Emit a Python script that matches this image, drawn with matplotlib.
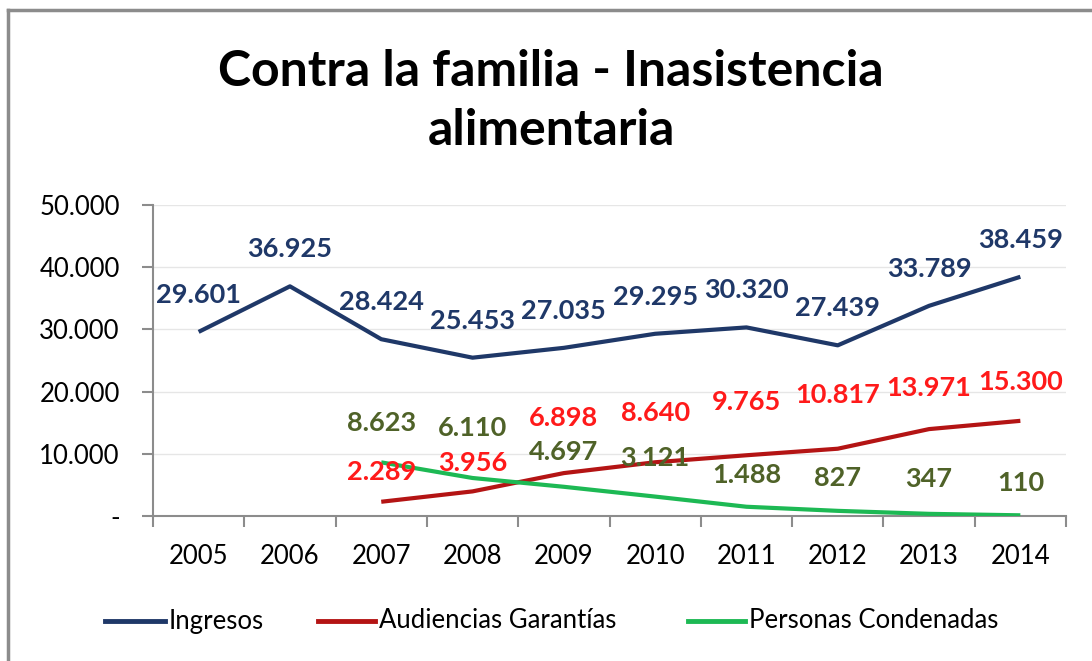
import matplotlib
matplotlib.use("Agg")
import matplotlib.pyplot as plt
from matplotlib.lines import Line2D
from matplotlib.ticker import FuncFormatter

years = ["2005", "2006", "2007", "2008", "2009", "2010", "2011", "2012", "2013", "2014"]
ingresos = [29601, 36925, 28424, 25453, 27035, 29295, 30320, 27439, 33789, 38459]
audiencias = [None, None, 2289, 3956, 6898, 8640, 9765, 10817, 13971, 15300]
condenadas = [None, None, 8623, 6110, 4697, 3121, 1488, 827, 347, 110]

title = "Contra la familia - Inasistencia\nalimentaria"
series_names = ["Ingresos", "Audiencias Garantías", "Personas Condenadas"]

line_colors = ["#1F3868", "#B41414", "#1DB954"]
label_colors = ["#1F3868", "#FF1A1A", "#4F6228"]

plt.rcParams['font.family'] = ['Lato', 'DejaVu Sans']

W, H = 1092, 661
fig = plt.figure(figsize=(W / 100, H / 100), dpi=100)
ax = fig.add_axes([153 / W, 1 - 516 / H, (1066 - 153) / W, (516 - 205) / H])

x = list(range(len(years)))

def fmt(v):
    return f"{v:,.0f}".replace(",", ".")

# per-point label lift in pixels (placement only)
red_lift = [0, 0, 30, 28, 55, 49, 53, 54, 41, 39]
green_lift = [0, 0, 39, 50, 35, 39, 32, 33, 35, 32]

all_series = [ingresos, audiencias, condenadas]
lifts = [[37] * 10, red_lift, green_lift]
for s, lc, tc, lift, name in zip(all_series, line_colors, label_colors, lifts, series_names):
    xs = [i for i, v in zip(x, s) if v is not None]
    ys = [v for v in s if v is not None]
    ax.plot(xs, ys, color=lc, lw=3, solid_capstyle='butt', label=name, zorder=3)
    for xi, yi in zip(xs, ys):
        ax.annotate(fmt(yi), (xi, yi), xytext=(0, lift[xi] * 0.72), textcoords='offset points',
                    ha='center', va='center', fontsize=19.5, fontweight='bold', color=tc, zorder=4)

ax.set_xlim(-0.5, len(years) - 0.5)
ax.set_ylim(0, 50000)
ax.set_yticks(range(0, 50001, 10000))
ax.yaxis.set_major_formatter(FuncFormatter(lambda v, p: "-" if v == 0 else fmt(v)))
ax.set_xticks(x)
ax.set_xticklabels(years)
ax.set_xticks([i - 0.5 for i in range(len(years) + 1)], minor=True)
ax.tick_params(axis='x', which='major', length=0, pad=20, labelsize=18.5, colors='#000000')
ax.tick_params(axis='x', which='minor', length=8, width=1.5, color='#8C8C8C')
ax.tick_params(axis='y', length=8, width=1.5, color='#8C8C8C', labelsize=18.5, pad=16)
for lab in ax.get_yticklabels() + ax.get_xticklabels():
    lab.set_color('#000000')

ax.grid(axis='y', color='#E6E6E6', lw=1)
ax.set_axisbelow(True)
for sp in ['top', 'right']:
    ax.spines[sp].set_visible(False)
for sp in ['left', 'bottom']:
    ax.spines[sp].set_color('#8C8C8C')
    ax.spines[sp].set_linewidth(1.5)

fig.text(551 / W, 1 - 101 / H, title, ha='center', va='center', fontsize=36, fontweight='bold',
         linespacing=1.4, color='#000000')

# legend entries (handle span and text start in pixels)
legend_pos = [(105, 165, 169), (318, 375, 379), (688, 745, 749)]
ly = 1 - 621 / H
for (h0, h1, t0), c, name in zip(legend_pos, line_colors, series_names):
    fig.add_artist(Line2D([h0 / W, h1 / W], [ly, ly], color=c, lw=3.5, transform=fig.transFigure))
    fig.text(t0 / W, ly, name, ha='left', va='center', fontsize=18.5, color='#000000')

# outer frame (left and top edges visible)
fig.add_artist(Line2D([8 / W, 8 / W], [0, 1 - 10 / H], color='#8C8C8C', lw=2.5, transform=fig.transFigure))
fig.add_artist(Line2D([8 / W, 1], [1 - 10 / H, 1 - 10 / H], color='#8C8C8C', lw=2.5, transform=fig.transFigure))

fig.savefig("out.png", dpi=100, facecolor='white')
